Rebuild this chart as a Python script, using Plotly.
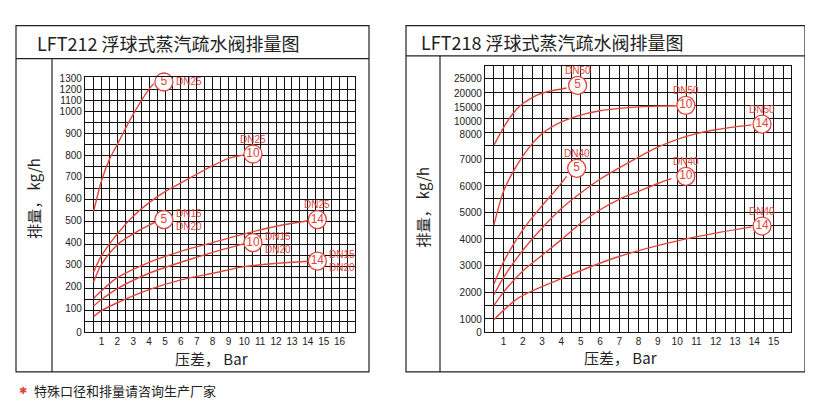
import numpy as np
import plotly.graph_objects as go

W, H = 813, 403
RED = "#e2453c"

# ---------------- data: LFT212 ----------------
L_ytick_vals = [0, 100, 200, 300, 400, 500, 600, 700, 800, 900, 1000, 1100, 1200, 1300]
L_xtick_vals = list(range(1, 17))
L_curves = [
    ("DN25", [0.5, 1, 1.5, 2, 3, 4, 4.3], [540, 680, 780, 850, 990, 1200, 1250], "5", 4.93, 1265),
    ("DN25", [0.5, 1, 2, 3, 4, 5, 6, 7, 8, 9, 9.9], [265, 340, 440, 520, 580, 630, 670, 710, 750, 785, 800], "10", 10.54, 805),
    ("DN15\nDN20", [0.5, 1, 2, 3, 4, 4.6], [220, 300, 390, 440, 480, 500], "5", 4.93, 505),
    ("DN25", [0.5, 1, 2, 4, 6, 8, 10, 12, 14], [145, 180, 240, 310, 360, 400, 440, 475, 500], "14", 14.6, 505),
    ("DN15\nDN20", [0.5, 1, 2, 4, 6, 8, 10], [110, 140, 190, 260, 310, 355, 395], "10", 10.54, 400),
    ("DN15\nDN20", [0.5, 1, 2, 4, 6, 8, 10, 12, 14], [65, 90, 125, 185, 230, 260, 290, 305, 315], "14", 14.6, 315),
]
L_label_side = ["right", "above", "right", "above", "right", "right"]

# ---------------- data: LFT218 ----------------
R_ytick_vals = [0, 1000, 2000, 3000, 4000, 5000, 6000, 7000, 8000, 10000, 15000, 20000, 25000]
R_xtick_vals = list(range(1, 17))
R_curves = [
    ("DN50", [0.52, 1.07, 1.5, 1.94, 2.4, 2.8, 3.5, 4.27], [7590, 9400, 12960, 16000, 18080, 19500, 20820, 21800], "5", 4.84, 22700),
    ("DN50", [0.5, 1, 1.5, 2, 2.5, 3, 4, 5, 6, 7, 8, 9, 9.97],
     [4540, 5810, 6550, 7140, 7640, 8110, 9950, 12280, 13810, 14660, 15170, 15440, 15540], "10", 10.45, 15700),
    ("DN50", [0.5, 1, 2, 3, 4, 5, 6, 7, 8, 9, 10, 11, 12, 13, 13.85],
     [1900, 2550, 3590, 4430, 5150, 5740, 6260, 6690, 7100, 7490, 7800, 8110, 8720, 9180, 9490], "14", 14.4, 9600),
    ("DN40", [0.5, 1, 2, 3, 3.66, 4.27], [2300, 3140, 4360, 5260, 5810, 6370], "5", 4.79, 6670),
    ("DN40", [0.5, 1, 2, 3, 4, 5, 6, 7, 8, 9, 9.7], [1500, 2000, 2800, 3400, 4000, 4600, 5100, 5500, 5800, 6100, 6280], "10", 10.45, 6370),
    ("DN40", [0.5, 1.76, 4.0, 6.94, 10.4, 13.85], [950, 1780, 2510, 3340, 4020, 4470], "14", 14.4, 4500),
]

# axis scale (the printed scale is piecewise): positions of tick values on the axis
L_tick_pos = [0, 24.7, 47.3, 70, 92.7, 115.3, 138.7, 161.3, 183.3, 205.7, 228, 240, 251.7, 263]
R_tick_pos = [0, 13.3, 41, 68.3, 95, 123, 150, 177.3, 203.3, 216.3, 231, 245.6, 260.3]


def L_map(v):
    return np.interp(v, L_ytick_vals, L_tick_pos)


def R_map(v):
    return np.interp(v, R_ytick_vals, R_tick_pos)


def px(x):
    return x / W


def py(y):
    return 1 - y / H


fig = go.Figure()
annotations = []
CJK = "Noto Sans CJK SC"
NUM = "Liberation Sans"


def add_panel(curves, sides, mapf, xa, ya):
    for i, (lab, xs, ys, num, cx, cy) in enumerate(curves):
        fig.add_trace(go.Scatter(x=xs, y=mapf(np.array(ys)), mode="lines",
                                 line=dict(color=RED, width=1.4, shape="spline", smoothing=0.8),
                                 xaxis=xa, yaxis=ya, showlegend=False, hoverinfo="skip"))
        fig.add_trace(go.Scatter(x=[cx], y=[float(mapf(cy))], mode="markers+text", text=[num],
                                 textposition="middle center",
                                 textfont=dict(color=RED, size=12, family=NUM),
                                 marker=dict(size=18, color="white", line=dict(color=RED, width=1.3)),
                                 xaxis=xa, yaxis=ya, showlegend=False, hoverinfo="skip", cliponaxis=False))
        if sides[i] == "above":
            annotations.append(dict(x=cx, y=float(mapf(cy)), xref=xa, yref=ya, text=lab, showarrow=False,
                                    yshift=15, font=dict(color=RED, size=10, family=NUM)))
        else:
            annotations.append(dict(x=cx, y=float(mapf(cy)), xref=xa, yref=ya, text=lab.replace("\n", "<br>"),
                                    showarrow=False, xanchor="left", xshift=10, align="left",
                                    font=dict(color=RED, size=10, family=NUM)))


add_panel(L_curves, L_label_side, L_map, "x", "y")
add_panel(R_curves, ["above"] * 6, R_map, "x2", "y2")

axcommon = dict(showline=True, linecolor="#111", linewidth=1.3, mirror=True, ticks="",
                tickfont=dict(size=10, family=NUM, color="#222"), zeroline=False)

fig.update_layout(
    width=W, height=H, margin=dict(l=0, r=0, t=0, b=0),
    paper_bgcolor="white", plot_bgcolor="white",
    xaxis=dict(domain=[px(77), px(347)], range=[-0.04, 16.97], tickvals=L_xtick_vals, showgrid=False,
               minor=dict(tickvals=list(np.arange(0.5, 17, 0.5)), showgrid=True, gridcolor="#111", gridwidth=1.2),
               anchor="y", **axcommon),
    yaxis=dict(domain=[py(328), py(66)], range=[0, 264], tickvals=L_tick_pos, ticktext=[str(v) for v in L_ytick_vals],
               showgrid=False,
               minor=dict(tickvals=list(np.arange(11.4, 262, 11.4)), showgrid=True, gridcolor="#111", gridwidth=1.2),
               anchor="x", **axcommon),
    xaxis2=dict(domain=[px(477), px(783)], range=[0.04, 15.9], tickvals=R_xtick_vals, showgrid=False,
                minor=dict(tickvals=list(np.arange(0.5, 16, 0.5)), showgrid=True, gridcolor="#111", gridwidth=1.2),
                anchor="y2", **axcommon),
    yaxis2=dict(domain=[py(328), py(54)], range=[0, 274], tickvals=R_tick_pos, ticktext=[str(v) for v in R_ytick_vals],
                showgrid=False,
                minor=dict(tickvals=list(np.arange(13.7, 274, 13.7)), showgrid=True, gridcolor="#111", gridwidth=1.2),
                anchor="x2", **axcommon),
)

shapes = []
def box(x0, y0, x1, y1):
    shapes.append(dict(type="rect", xref="paper", yref="paper", x0=px(x0), y0=py(y1), x1=px(x1), y1=py(y0),
                       line=dict(color="#222", width=1.2)))
def hline(x0, x1, y):
    shapes.append(dict(type="line", xref="paper", yref="paper", x0=px(x0), x1=px(x1), y0=py(y), y1=py(y),
                       line=dict(color="#222", width=1.2)))
def vline(x, y0, y1):
    shapes.append(dict(type="line", xref="paper", yref="paper", x0=px(x), x1=px(x), y0=py(y0), y1=py(y1),
                       line=dict(color="#222", width=1.2)))

box(8, 13, 361, 369)
hline(8, 361, 47)
vline(44, 47, 369)
box(398, 13, 797, 369)
hline(398, 797, 44)
vline(432, 44, 369)

def text(x, y, s, size, anchor="left", angle=0, color="#222", family=CJK):
    annotations.append(dict(x=px(x), y=py(y), xref="paper", yref="paper", text=s, showarrow=False,
                            xanchor=anchor, yanchor="middle", textangle=angle,
                            font=dict(size=size, family=family, color=color)))

text(27, 31, "LFT212 浮球式蒸汽疏水阀排量图", 18)
text(411, 30, "LFT218 浮球式蒸汽疏水阀排量图", 18)
text(26, 190, "排量， kg/h", 15, anchor="center", angle=-90)
text(415, 200, "排量， kg/h", 15, anchor="center", angle=-90)
text(203, 355, "压差， Bar", 15, anchor="center")
text(612, 354, "压差， Bar", 15, anchor="center")
text(9, 388, "✱", 10, color=RED, family=NUM)
text(24, 388, "特殊口径和排量请咨询生产厂家", 13)

fig.update_layout(shapes=shapes, annotations=annotations)
fig.write_html("out.html")
